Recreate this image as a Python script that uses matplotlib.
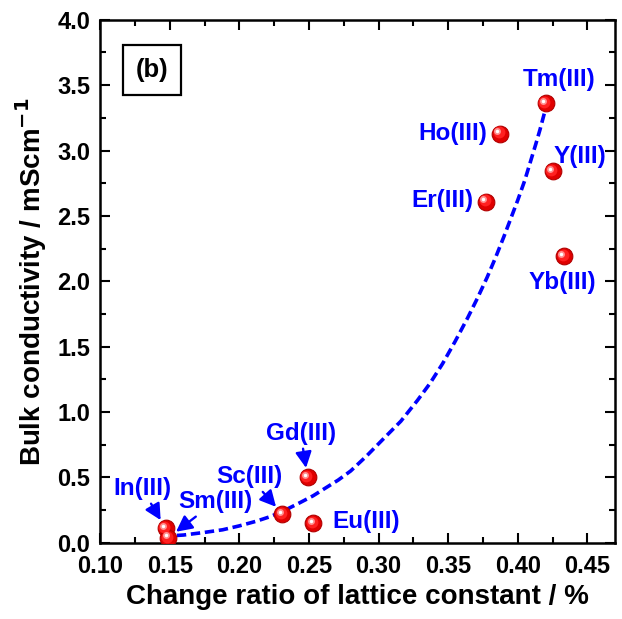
import matplotlib
matplotlib.use("Agg")
import matplotlib.pyplot as plt
from matplotlib.ticker import MultipleLocator, FormatStrFormatter
from matplotlib.transforms import offset_copy

plt.rcParams['font.family'] = ['Liberation Sans', 'DejaVu Sans']
plt.rcParams['font.weight'] = 'bold'

# dopant data
ions = ['In(III)', 'Sm(III)', 'Sc(III)', 'Gd(III)', 'Eu(III)',
        'Er(III)', 'Ho(III)', 'Tm(III)', 'Y(III)', 'Yb(III)']
ratio = [0.147, 0.149, 0.231, 0.249, 0.253, 0.377, 0.387, 0.420, 0.425, 0.433]
cond = [0.11, 0.04, 0.22, 0.50, 0.15, 2.61, 3.13, 3.36, 2.84, 2.19]

# fitted trend (dashed)
fit_x = [0.145, 0.160, 0.175, 0.188, 0.200, 0.212, 0.222, 0.231, 0.244,
         0.253, 0.262, 0.271, 0.280, 0.291, 0.303, 0.316, 0.328, 0.337,
         0.346, 0.355, 0.364, 0.371, 0.378, 0.384, 0.390, 0.395, 0.400,
         0.405, 0.409, 0.413, 0.416, 0.419, 0.421]
fit_y = [0.05, 0.06, 0.08, 0.10, 0.13, 0.165, 0.20, 0.24, 0.31,
         0.36, 0.42, 0.48, 0.55, 0.66, 0.79, 0.93, 1.09, 1.22,
         1.37, 1.54, 1.72, 1.87, 2.03, 2.18, 2.34, 2.48, 2.62,
         2.77, 2.91, 3.05, 3.16, 3.28, 3.35]

# label placement: (dx, dy) in points, alignment, arrow?
label_pos = {
    'In(III)': ((-17, 29), 'center', True),
    'Sm(III)': ((34, 26), 'center', True),
    'Sc(III)': ((-24, 27), 'center', True),
    'Gd(III)': ((-5, 32), 'center', True),
    'Eu(III)': ((14, 1), 'left', False),
    'Er(III)': ((-9, 1), 'right', False),
    'Ho(III)': ((-9, 0), 'right', False),
    'Tm(III)': ((10, 17), 'center', False),
    'Y(III)': ((20, 11), 'center', False),
    'Yb(III)': ((-1, -19), 'center', False),
}

fig = plt.figure(figsize=(6.22, 6.19), dpi=100)
ax = fig.add_axes([0.161, 0.123, 0.828, 0.845])

ax.plot(fit_x, fit_y, color='#0000ff', lw=2.6, linestyle=(0, (2.6, 1.3)), zorder=3)

# shaded "sphere" markers
ax.plot(ratio, cond, 'o', ms=12, color='#e00000', mec='#b00000', mew=0.8, zorder=4)
t1 = offset_copy(ax.transData, fig=fig, x=-0.8, y=0.8, units='points')
ax.plot(ratio, cond, 'o', ms=8.5, color='#ff2020', mew=0, transform=t1, zorder=5)
t2 = offset_copy(ax.transData, fig=fig, x=-1.8, y=1.8, units='points')
ax.plot(ratio, cond, 'o', ms=5, color='#ff9090', mew=0, transform=t2, zorder=6)
ax.plot(ratio, cond, 'o', ms=2.5, color='#ffffff', mew=0, transform=t2, zorder=7)

for name, x, y in zip(ions, ratio, cond):
    off, ha, arrow = label_pos[name]
    kw = {}
    if arrow:
        kw['arrowprops'] = dict(arrowstyle='-|>,head_length=0.55,head_width=0.28',
                                color='#0000ff', lw=1.7, shrinkA=1, shrinkB=7)
    ax.annotate(name, xy=(x, y), xytext=off, textcoords='offset points',
                ha=ha, va='center', color='#0000ff', fontsize=17.5,
                fontweight='bold', zorder=8, **kw)

ax.text(0.101, 0.904, '(b)', transform=ax.transAxes, ha='center', va='center',
        fontsize=18.5, fontweight='bold',
        bbox=dict(boxstyle='square,pad=0.5', fc='white', ec='black', lw=1.6))

ax.set_xlim(0.10, 0.47)
ax.set_ylim(0.0, 4.0)
ax.xaxis.set_major_locator(MultipleLocator(0.05))
ax.xaxis.set_minor_locator(MultipleLocator(0.025))
ax.yaxis.set_major_locator(MultipleLocator(0.5))
ax.yaxis.set_minor_locator(MultipleLocator(0.25))
ax.xaxis.set_major_formatter(FormatStrFormatter('%.2f'))
ax.yaxis.set_major_formatter(FormatStrFormatter('%.1f'))
ax.tick_params(which='both', direction='in', top=True, right=True, width=1.5,
               labelsize=17)
ax.tick_params(which='major', length=7)
ax.tick_params(which='minor', length=4)
ax.tick_params(axis='y', which='major', pad=7)
ax.tick_params(axis='x', which='major', pad=9)
for s in ax.spines.values():
    s.set_linewidth(1.8)

ax.set_xlabel('Change ratio of lattice constant / %', fontsize=20,
              fontweight='bold', labelpad=4)
ax.set_ylabel('Bulk conductivity / mScm$^{\\mathbf{-1}}$', fontsize=20,
              fontweight='bold', labelpad=6)

fig.savefig('out.png', dpi=100)
